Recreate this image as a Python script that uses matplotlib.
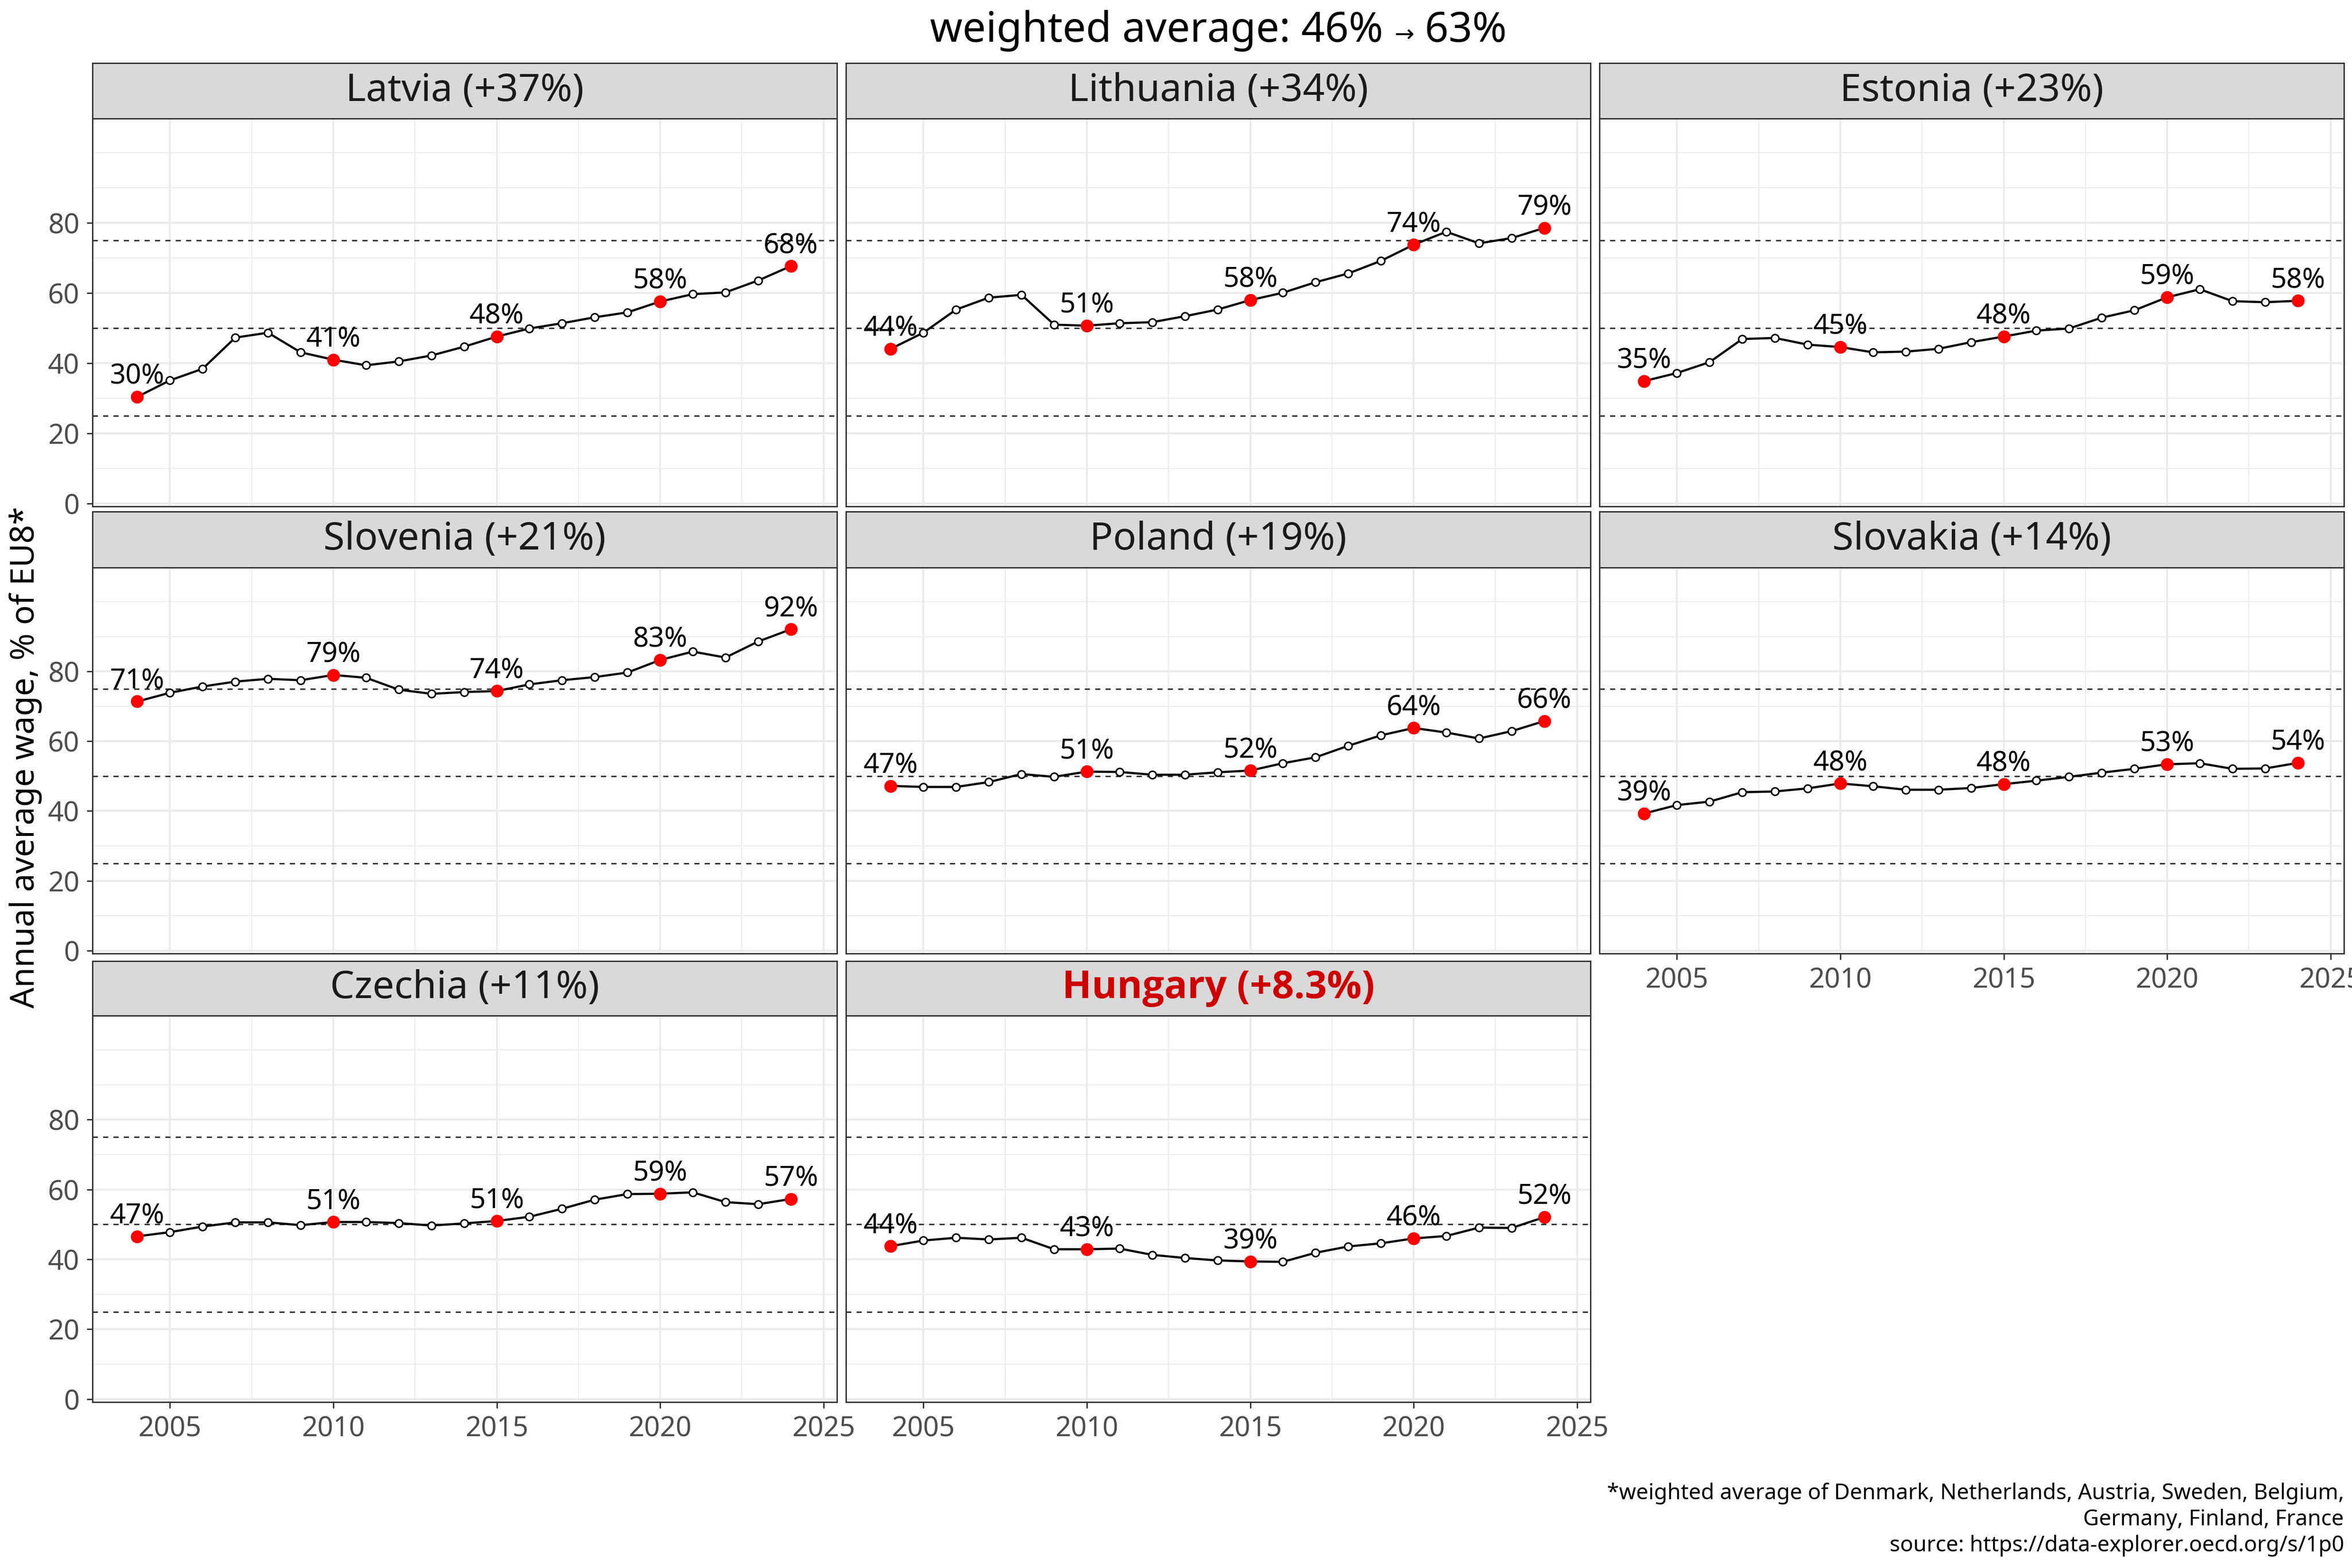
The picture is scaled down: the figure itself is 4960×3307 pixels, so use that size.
import numpy as np
import matplotlib
matplotlib.use("Agg")
import matplotlib.pyplot as plt

plt.rcParams['font.family'] = ['Noto Sans', 'DejaVu Sans']

W, H = 4960, 3307

years = list(range(2004, 2025))
label_years = [2004, 2010, 2015, 2020, 2024]

latvia = [30.4, 35.1, 38.4, 47.3, 48.7, 43.1, 41.0, 39.4, 40.5, 42.2, 44.7,
          47.6, 49.9, 51.4, 53.1, 54.5, 57.6, 59.7, 60.2, 63.6, 67.7]
lithuania = [44.1, 48.7, 55.3, 58.7, 59.5, 51.0, 50.7, 51.4, 51.7, 53.4, 55.3,
             58.0, 60.1, 63.1, 65.6, 69.2, 73.8, 77.5, 74.2, 75.7, 78.6]
estonia = [34.9, 37.2, 40.3, 46.9, 47.2, 45.3, 44.6, 43.1, 43.3, 44.1, 46.0,
           47.6, 49.3, 49.9, 53.0, 55.1, 58.8, 61.1, 57.7, 57.4, 57.8]
slovenia = [71.4, 73.9, 75.7, 77.1, 77.9, 77.5, 79.0, 78.2, 74.8, 73.6, 74.1,
            74.4, 76.3, 77.5, 78.4, 79.7, 83.3, 85.7, 84.0, 88.6, 92.1]
poland = [47.2, 46.9, 46.9, 48.3, 50.6, 49.8, 51.3, 51.2, 50.4, 50.4, 51.1,
          51.6, 53.7, 55.4, 58.7, 61.7, 63.8, 62.5, 60.8, 62.9, 65.8]
slovakia = [39.3, 41.7, 42.7, 45.4, 45.6, 46.5, 47.9, 47.1, 46.1, 46.1, 46.6,
            47.7, 48.7, 49.8, 51.0, 52.1, 53.4, 53.7, 52.1, 52.2, 53.8]
czechia = [46.6, 47.8, 49.4, 50.6, 50.6, 49.8, 50.7, 50.7, 50.4, 49.7, 50.3,
           51.0, 52.2, 54.5, 57.1, 58.7, 58.8, 59.2, 56.4, 55.8, 57.3]
hungary = [43.8, 45.4, 46.2, 45.7, 46.2, 42.9, 42.9, 43.1, 41.3, 40.4, 39.7,
           39.4, 39.3, 41.9, 43.7, 44.6, 46.0, 46.7, 49.1, 49.0, 52.1]

series = [latvia, lithuania, estonia, slovenia, poland, slovakia, czechia, hungary]
titles = ["Latvia (+37%)", "Lithuania (+34%)", "Estonia (+23%)",
          "Slovenia (+21%)", "Poland (+19%)", "Slovakia (+14%)",
          "Czechia (+11%)", "Hungary (+8.3%)"]
ref_lines = [25, 50, 75]

title_parts = ["weighted average: 46% ", "\u2192", " 63%"]
ylabel = "Annual average wage, % of EU8*"
caption = ["*weighted average of Denmark, Netherlands, Austria, Sweden, Belgium,",
           "Germany, Finland, France",
           "source: https://data-explorer.oecd.org/s/1p0"]

# panel geometry in pixels
cols = [(195, 1765), (1784, 3354), (3373, 4943)]
rows = [(133, 250, 1068), (1079, 1197, 2011), (2027, 2142, 2957)]

fig = plt.figure(figsize=(W / 300, H / 300), dpi=300)


def box(x0, x1, ytop, ybot):
    return [x0 / W, 1 - ybot / H, (x1 - x0) / W, (ybot - ytop) / H]


for i, (vals, ttl) in enumerate(zip(series, titles)):
    r, c = divmod(i, 3)
    x0, x1 = cols[c]
    st, pt, pb = rows[r]
    ax = fig.add_axes(box(x0, x1, pt, pb))
    sax = fig.add_axes(box(x0, x1, st, pt))

    # strip
    sax.set_facecolor('#D9D9D9')
    sax.set_xticks([])
    sax.set_yticks([])
    for s in sax.spines.values():
        s.set_color('#333333')
        s.set_linewidth(0.7)
    if ttl.startswith("Hungary"):
        sax.text(0.5, 0.5, ttl, ha='center', va='center', fontsize=19.5,
                 color='#CD0000', fontweight='bold',
                 family=['Open Sans', 'Noto Sans', 'DejaVu Sans'],
                 transform=sax.transAxes)
    else:
        sax.text(0.5, 0.5, ttl, ha='center', va='center', fontsize=19.5,
                 color='#1A1A1A', transform=sax.transAxes)

    # panel
    ax.set_xlim(2002.63, 2025.41)
    ax.set_ylim(-0.85, 109.8)
    ax.set_xticks([2005, 2010, 2015, 2020, 2025])
    ax.set_xticks([2007.5, 2012.5, 2017.5, 2022.5], minor=True)
    ax.set_yticks([0, 20, 40, 60, 80])
    ax.set_yticks([10, 30, 50, 70, 90, 100], minor=True)
    ax.grid(which='major', color='#EBEBEB', lw=1.0)
    ax.grid(which='minor', color='#EBEBEB', lw=0.5)
    ax.set_axisbelow(True)
    for s in ax.spines.values():
        s.set_color('#333333')
        s.set_linewidth(0.7)
    ax.tick_params(which='minor', length=0)
    ax.tick_params(which='major', length=3, width=0.7, color='#333333',
                   labelsize=14, labelcolor='#4D4D4D', pad=3.5)

    show_x = (r == 2) or (i == 5)
    show_y = (c == 0)
    if not show_x:
        ax.tick_params(axis='x', length=0, labelbottom=False)
    if not show_y:
        ax.tick_params(axis='y', length=0, labelleft=False)

    for h in ref_lines:
        ax.axhline(h, color='#333333', lw=0.75, dashes=(3.5, 3.5), zorder=2)

    ax.plot(years, vals, color='black', lw=1.1, zorder=3)
    ax.plot(years, vals, 'o', ms=3.8, mfc='white', mec='black', mew=0.75,
            zorder=4)
    lv = [vals[years.index(y)] for y in label_years]
    ax.plot(label_years, lv, 'o', ms=5.5, color='#FF0000', mec='#FF0000',
            zorder=5)
    for y, v in zip(label_years, lv):
        ax.annotate(f"{v:.0f}%", (y, v), xytext=(0, 6.5),
                    textcoords='offset points', ha='center', va='baseline',
                    fontsize=14, color='black', zorder=6)

# title, with a smaller arrow as in the original
tx = (cols[0][0] + cols[2][1]) / 2 / W
ty = 1 - 88 / H
fig.canvas.draw()
rend = fig.canvas.get_renderer()
sizes = [21, 12, 21]
tmp = [fig.text(0, ty, p, fontsize=s, va='baseline') for p, s in zip(title_parts, sizes)]
widths = [t.get_window_extent(rend).width / W for t in tmp]
xpos = tx - sum(widths) / 2
for t, w in zip(tmp, widths):
    t.set_x(xpos)
    xpos += w

fig.text(54 / W, 1 - 1597 / H, ylabel, rotation=90, ha='center',
         va='center', fontsize=16.5, color='black')
for k, line in enumerate(caption):
    fig.text(4943 / W, 1 - (3162 + 55 * k) / H, line, ha='right',
             va='baseline', fontsize=11, color='black')

fig.savefig('out.png', dpi=300)
